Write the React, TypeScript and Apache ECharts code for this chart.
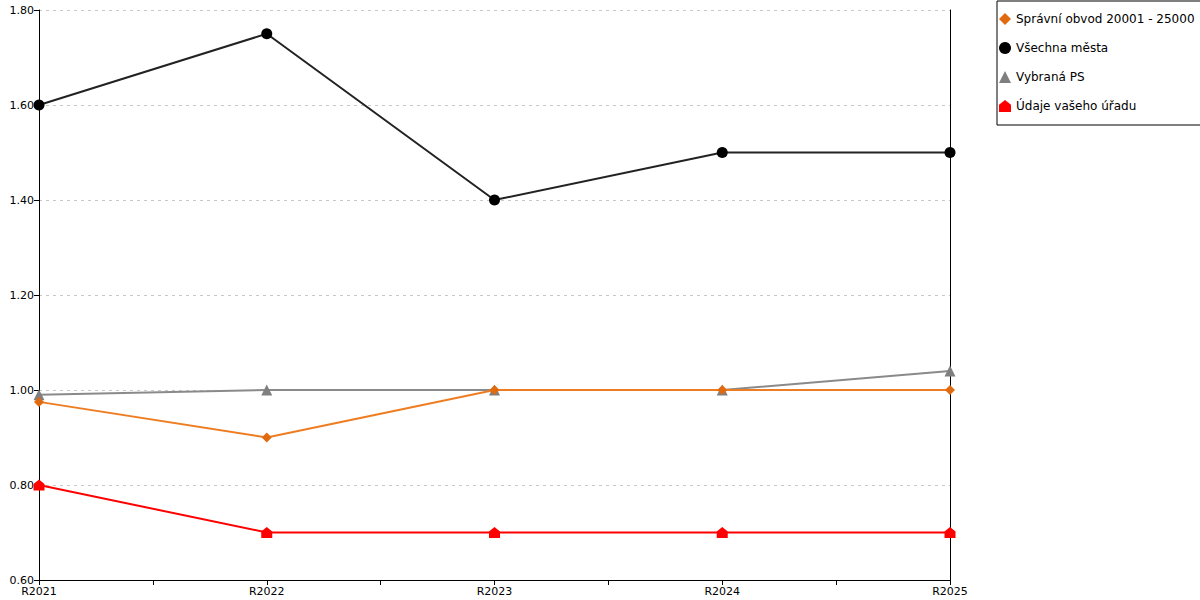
import React, { useEffect, useRef } from "react";
import * as echarts from "echarts";

const categories = ["R2021", "R2022", "R2023", "R2024", "R2025"];
const spravniObvod = [0.975, 0.9, 1.0, 1.0, 1.0];
const vsechnaMesta = [1.6, 1.75, 1.4, 1.5, 1.5];
const vybranaPS = [0.99, 1.0, 1.0, 1.0, 1.04];
const udajeUradu = [0.8, 0.7, 0.7, 0.7, 0.7];

const seriesNames = [
  "Správní obvod 20001 - 25000",
  "Všechna města",
  "Vybraná PS",
  "Údaje vašeho úřadu",
];

const HOUSE = "path://M0,4 L5,0 L10,4 L10,10 L0,10 Z";

const toPoints = (arr: number[]) => arr.map((v, i) => [i, v]);

export default function App() {
  const ref = useRef<HTMLDivElement>(null);
  useEffect(() => {
    if (!ref.current) return;
    const chart = echarts.init(ref.current, null, { renderer: "svg" });
    const font = "DejaVu Sans, Verdana, sans-serif";
    chart.setOption({
      animation: false,
      backgroundColor: "#ffffff",
      textStyle: { fontFamily: font },
      grid: { left: 39, right: 250, top: 10, bottom: 20 },
      legend: {
        orient: "vertical",
        left: 997,
        top: 1,
        borderColor: "#000",
        borderWidth: 1,
        borderRadius: 0,
        padding: [12, 8, 13, 2],
        itemGap: 17,
        itemWidth: 12,
        itemHeight: 12,
        textStyle: { fontSize: 12, color: "#000", fontFamily: font },
        data: [
          { name: seriesNames[0], icon: "diamond" },
          { name: seriesNames[1], icon: "circle" },
          { name: seriesNames[2], icon: "triangle" },
          { name: seriesNames[3], icon: HOUSE },
        ],
      },
      xAxis: {
        type: "value",
        min: 0,
        max: categories.length - 1,
        interval: 0.5,
        splitLine: { show: false },
        axisLine: { show: true, lineStyle: { color: "#000", width: 1 } },
        axisTick: { show: true, length: 5, lineStyle: { color: "#000" } },
        axisLabel: {
          fontSize: 11,
          color: "#000",
          fontFamily: font,
          margin: 6,
          formatter: (v: number) =>
            Number.isInteger(v) ? categories[v] ?? "" : "",
        },
      },
      yAxis: [
        {
          type: "value",
          min: 0.6,
          max: 1.8,
          interval: 0.2,
          axisLine: { show: true, lineStyle: { color: "#000", width: 1 } },
          axisTick: { show: true, length: 5, lineStyle: { color: "#000" } },
          axisLabel: {
            fontSize: 11,
            color: "#000",
            fontFamily: font,
            margin: 5,
            formatter: (v: number) => v.toFixed(2),
          },
          splitLine: {
            show: true,
            lineStyle: { color: "#c8c8c8", type: [3, 4], width: 1 },
          },
        },
        {
          type: "value",
          position: "right",
          min: 0.6,
          max: 1.8,
          interval: 0.2,
          axisLine: { show: true, lineStyle: { color: "#000", width: 1 } },
          axisTick: { show: false },
          axisLabel: { show: false },
          splitLine: { show: false },
        },
      ],
      series: [
        {
          name: seriesNames[2],
          type: "line",
          data: toPoints(vybranaPS),
          symbol: "triangle",
          symbolSize: 11,
          lineStyle: { color: "#8a8a8a", width: 2 },
          itemStyle: { color: "#7f7f7f" },
          z: 2,
        },
        {
          name: seriesNames[0],
          type: "line",
          data: toPoints(spravniObvod),
          symbol: "diamond",
          symbolSize: 10,
          lineStyle: { color: "#ee7d22", width: 2 },
          itemStyle: { color: "#e06a10" },
          z: 3,
        },
        {
          name: seriesNames[1],
          type: "line",
          data: toPoints(vsechnaMesta),
          symbol: "circle",
          symbolSize: 11,
          lineStyle: { color: "#222222", width: 2 },
          itemStyle: { color: "#000000" },
          z: 4,
        },
        {
          name: seriesNames[3],
          type: "line",
          data: toPoints(udajeUradu),
          symbol: HOUSE,
          symbolSize: 11,
          lineStyle: { color: "#ff0000", width: 2 },
          itemStyle: { color: "#ff0000" },
          z: 5,
        },
      ],
    });
    return () => chart.dispose();
  }, []);
  return <div ref={ref} style={{ width: 1200, height: 600, position: "absolute", left: 0, top: 0 }} />;
}
